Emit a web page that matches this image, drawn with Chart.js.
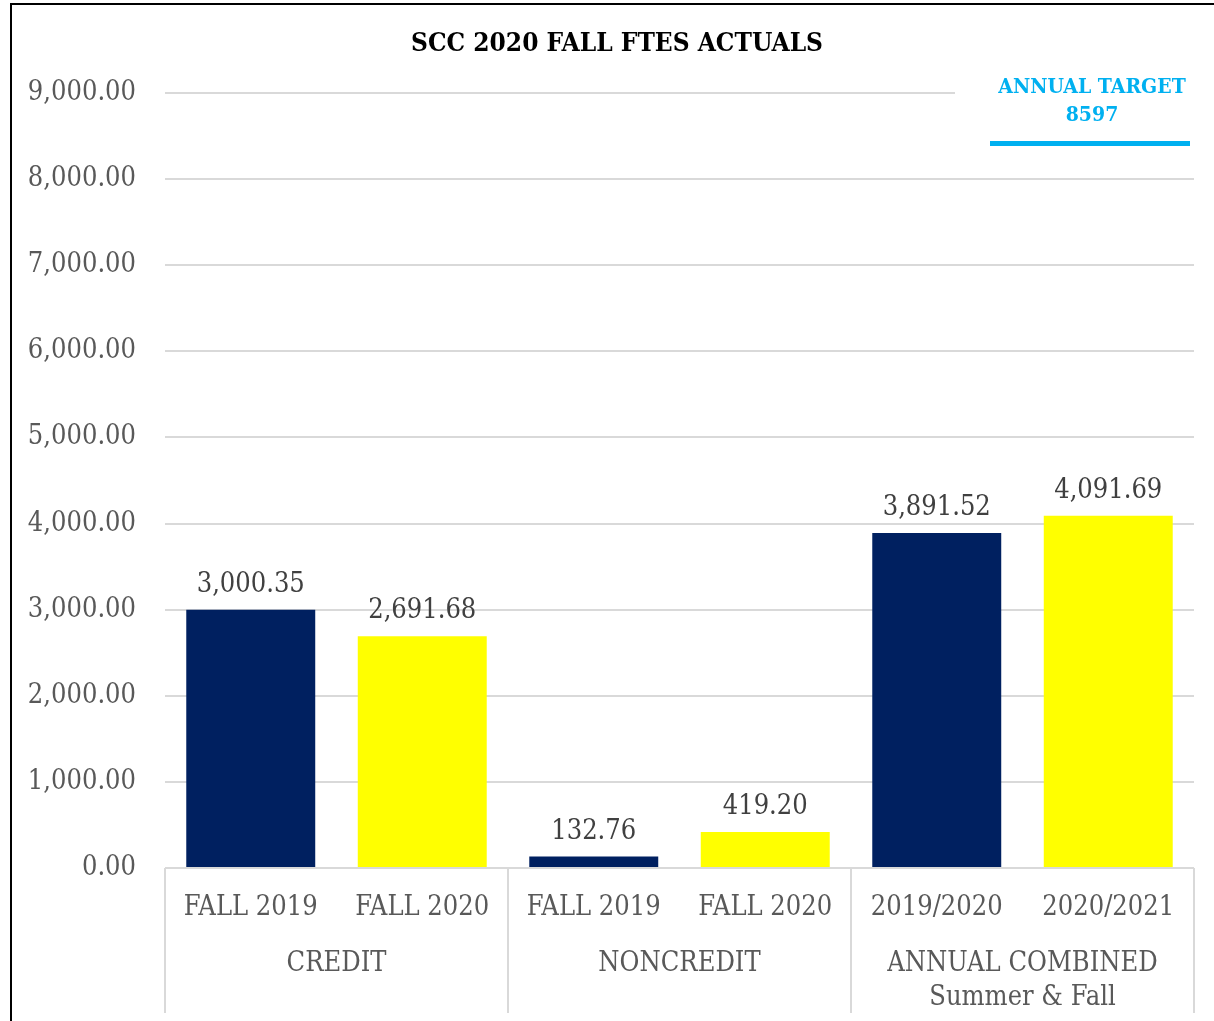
<!DOCTYPE html>
<html><head><meta charset="utf-8">
<script src="https://cdn.jsdelivr.net/npm/chart.js@4/dist/chart.umd.min.js"></script>
<style>
html,body{margin:0;padding:0;background:#fff;overflow:hidden;width:1214px;height:1021px;}
#wrap{position:absolute;left:10px;top:3px;width:1214px;height:1018px;}
#frame{position:absolute;left:10px;top:3px;width:1240px;height:1060px;border:2px solid #000;box-sizing:border-box;pointer-events:none;}
</style></head><body>
<div id="wrap"><canvas id="c" width="1214" height="1018"></canvas></div>
<div id="frame"></div>
<script>
const chartTitle = 'SCC 2020 FALL FTES ACTUALS';
const barLabels = ['FALL 2019', 'FALL 2020', 'FALL 2019', 'FALL 2020', '2019/2020', '2020/2021'];
const groupLabels = ['CREDIT', 'NONCREDIT', ['ANNUAL COMBINED', 'Summer & Fall']];
const values = [3000.35, 2691.68, 132.76, 419.20, 3891.52, 4091.69];
const barColors = ['#002060', '#FFFF00', '#002060', '#FFFF00', '#002060', '#FFFF00'];
const yTicks = [0, 1000, 2000, 3000, 4000, 5000, 6000, 7000, 8000, 9000];
const targetLabel = 'ANNUAL TARGET';
const targetValue = 8597;

const F = "'DejaVu Serif Condensed', 'Liberation Serif', serif";
const fmt = v => v.toLocaleString('en-US', {minimumFractionDigits: 2, maximumFractionDigits: 2});

const dataLabelPlugin = {
  id: 'dataLabels',
  afterDatasetsDraw(chart) {
    const ctx = chart.ctx;
    const meta = chart.getDatasetMeta(0);
    ctx.save();
    ctx.font = `27px ${F}`;
    ctx.fillStyle = '#404040';
    ctx.textAlign = 'center';
    ctx.textBaseline = 'alphabetic';
    meta.data.forEach((bar, i) => ctx.fillText(fmt(values[i]), bar.x, bar.y - 18));
    ctx.restore();
  }
};

const decorPlugin = {
  id: 'decor',
  afterDraw(chart) {
    const ctx = chart.ctx;
    const ca = chart.chartArea;
    const xs = chart.scales.x;
    const catW = (xs.right - xs.left) / barLabels.length;
    ctx.save();
    // group separators
    ctx.strokeStyle = '#d9d9d9';
    ctx.lineWidth = 2;
    for (let k = 0; k <= groupLabels.length; k++) {
      const x = xs.left + k * 2 * catW;
      ctx.beginPath();
      ctx.moveTo(x, ca.bottom);
      ctx.lineTo(x, ca.bottom + 145);
      ctx.stroke();
    }
    // annual target legend box
    ctx.fillStyle = '#ffffff';
    ctx.fillRect(ca.right - 239, ca.top - 25, 245, 60);
    const cx = ca.right - 102;
    ctx.fillStyle = '#00B0F0';
    ctx.font = `bold 21px ${F}`;
    ctx.textAlign = 'center';
    ctx.textBaseline = 'middle';
    ctx.fillText(targetLabel, cx, ca.top - 5);
    ctx.fillText(String(targetValue), cx, ca.top + 23);
    ctx.strokeStyle = '#00B0F0';
    ctx.lineWidth = 5;
    ctx.beginPath();
    ctx.moveTo(ca.right - 204, ca.top + 50.5);
    ctx.lineTo(ca.right - 4, ca.top + 50.5);
    ctx.stroke();
    ctx.restore();
  }
};

new Chart(document.getElementById('c'), {
  type: 'bar',
  data: {
    labels: barLabels,
    datasets: [{
      data: values,
      backgroundColor: barColors,
      borderWidth: 0,
      categoryPercentage: 1,
      barPercentage: 0.752
    }]
  },
  options: {
    responsive: false,
    animation: false,
    devicePixelRatio: 1,
    layout: {padding: {left: 0, right: 0, top: 0, bottom: 8}},
    plugins: {
      legend: {display: false},
      tooltip: {enabled: false},
      title: {
        display: true,
        text: chartTitle,
        color: '#000000',
        font: {family: F, size: 26, weight: 'bold'},
        padding: {top: 26, bottom: 32.8}
      }
    },
    scales: {
      y: {
        min: 0, max: 9000,
        afterBuildTicks: s => { s.ticks = yTicks.map(v => ({value: v})); },
        grid: {color: '#d9d9d9', lineWidth: 2, drawTicks: false},
        border: {display: false},
        ticks: {
          font: {family: F, size: 27},
          color: '#595959',
          padding: 29,
          callback: v => fmt(v)
        },
        afterFit: s => { s.width = 155; }
      },
      yRight: {
        position: 'right',
        grid: {display: false},
        border: {display: false},
        ticks: {display: false},
        afterFit: s => { s.width = 30; }
      },
      x: {
        type: 'category',
        grid: {display: false},
        border: {display: false},
        ticks: {font: {family: F, size: 27}, color: '#595959', padding: 16, maxRotation: 0, autoSkip: false},
        afterFit: s => { s.height = 55; }
      },
      x2: {
        type: 'category',
        position: 'bottom',
        labels: groupLabels,
        offset: true,
        grid: {display: false},
        border: {display: false},
        ticks: {font: {family: F, size: 27, lineHeight: 1.26}, color: '#595959', padding: 16, maxRotation: 0, autoSkip: false},
        afterFit: s => { s.height = 90; }
      }
    }
  },
  plugins: [dataLabelPlugin, decorPlugin]
});
</script>
</body></html>
